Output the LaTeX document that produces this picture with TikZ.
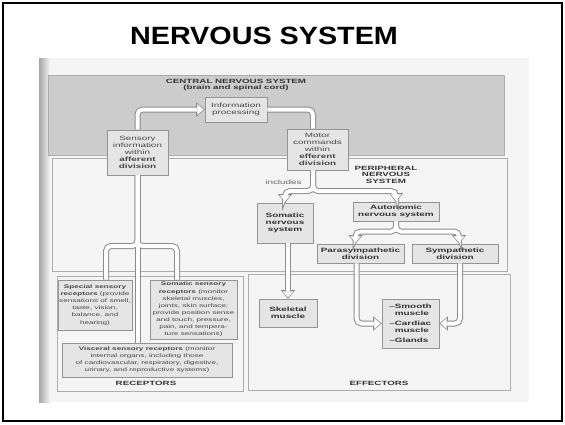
\documentclass[tikz,border=0pt]{standalone}
\usepackage{fontspec}
\setmainfont{Liberation Sans}
\newfontfamily\titlefont{Liberation Sans}[FakeStretch=1.15]
\newfontfamily\diagfont{Liberation Sans}[FakeStretch=1.6]
\usetikzlibrary{arrows.meta}

\begin{document}
\begin{tikzpicture}[
  x=1pt, y=-1pt,
  panel/.style={draw=black!32, line width=0.7pt, fill=black!4},
  box/.style={draw=black!42, line width=0.7pt, fill=black!10, inner sep=0.6pt, align=center, text=black!72, font=\diagfont\fontsize{6.2}{7}\selectfont},
  boldbox/.style={box, text=black!80, font=\diagfont\bfseries\fontsize{6.2}{7}\selectfont},
  recbox/.style={box, font=\diagfont\fontsize{5.1}{7.1}\selectfont},
  caps/.style={align=center, inner sep=0pt, text=black!80, font=\diagfont\bfseries\fontsize{6.1}{6.5}\selectfont},
  note/.style={inner sep=0pt, text=black!60, font=\diagfont\fontsize{6.2}{7}\selectfont},
  pipeout/.style={draw=black!45, line width=6pt, rounded corners=5pt,
    pipehead/.style={-{Triangle[length=8.5pt, width=14pt, line width=0.1pt]}}},
  pipein/.style={draw=white, line width=4pt, rounded corners=5pt,
    pipehead/.style={-{Triangle[length=6pt, width=10.4pt, line width=0.1pt]}, shorten >=1.3pt}}
]
  \useasboundingbox (0,0) rectangle (565,424);
  \draw[line width=2pt] (3,3) rectangle (562,421);
  \node (title) at (264,36) {\titlefont\bfseries\fontsize{25}{30}\selectfont NERVOUS SYSTEM};

  % scanned page and its panels
  \fill[black!4] (39,58) rectangle (529,402);
  \shade[left color=black!35, right color=black!4] (39,58) rectangle (50,402);
  \draw[panel, fill=black!20] (48,75) rectangle (504,155);
  \draw[panel] (52,158) rectangle (507,271);
  \draw[panel] (57,276) rectangle (243,391);
  \draw[panel] (248,274) rectangle (510,390);

  \node[caps] (cns) at (236,85) {CENTRAL NERVOUS SYSTEM\\(brain and spinal cord)};
  \node[caps] (pns) at (386,174.5) {PERIPHERAL\\NERVOUS\\SYSTEM};
  \node[caps] (receptors) at (146,383) {RECEPTORS};
  \node[caps] (effectors) at (379,383) {EFFECTORS};
  \node[note] (includes) at (283.5,182) {includes};

  \node[box, minimum width=62pt, minimum height=25pt] (info) at (236,109.5) {Information\\processing};
  \node[box, minimum width=61pt, minimum height=45pt] (sensory) at (137.5,152.5) {Sensory\\information\\within\\\textbf{afferent}\\\textbf{division}};
  \node[box, minimum width=61pt, minimum height=41pt] (motor) at (317.5,149.5) {Motor\\commands\\within\\\textbf{efferent}\\\textbf{division}};

  \node[boldbox, minimum width=56pt, minimum height=40pt] (somatic) at (285,223) {Somatic\\nervous\\system};
  \node[boldbox, minimum width=86pt, minimum height=19pt] (autonomic) at (396,211.5) {Autonomic\\nervous system};
  \node[boldbox, minimum width=87pt, minimum height=19pt] (parasym) at (360.5,253.5) {Parasympathetic\\division};
  \node[boldbox, minimum width=86pt, minimum height=19pt] (sympath) at (455,253.5) {Sympathetic\\division};
  \node[boldbox, minimum width=58pt, minimum height=28pt] (skeletal) at (288,313) {Skeletal\\muscle};
  \node[boldbox, minimum width=57pt, minimum height=49pt, align=left] (glands) at (410.5,323.5) {\textendash Smooth\\\phantom{\textendash}muscle\\[3pt]\textendash Cardiac\\\phantom{\textendash}muscle\\[3pt]\textendash Glands};

  \node[recbox, minimum width=74pt, minimum height=50pt] (special) at (95,305) {\textbf{Special sensory}\\\textbf{receptors} (provide\\sensations of smell,\\taste, vision,\\balance, and\\hearing)};
  \node[recbox, minimum width=87pt, minimum height=59pt] (somsens) at (193.5,309.5) {\textbf{Somatic sensory}\\\textbf{receptors} (monitor\\skeletal muscles,\\joints, skin surface;\\provide position sense\\and touch, pressure,\\pain, and tempera-\\ture sensations)};
  \node[recbox, minimum width=170pt, minimum height=34pt] (visceral) at (147,360) {\textbf{Visceral sensory receptors} (monitor\\internal organs, including those\\of cardiovascular, respiratory, digestive,\\urinary, and reproductive systems)};

  \coordinate (effsplit) at (313,191);
  \coordinate (autsplit) at (396,231.5);
  \coordinate (recsplit) at (137.5,246);

  \foreach \layer in {pipeout,pipein}{
    % afferent side
    \draw[\layer] (sensory.south) -- (sensory.south |- visceral.north);
    \draw[\layer] (sensory.south) -- (recsplit) -| ([xshift=11pt]special.north);
    \draw[\layer] (sensory.south) -- (recsplit) -| ([xshift=-16.5pt]somsens.north);
    \draw[\layer, pipehead] (sensory.north) |- (info.west);
    % efferent side
    \draw[\layer] (info.east) -| (effsplit |- motor.north);
    \draw[\layer, pipehead] (effsplit |- motor.south) -- (effsplit) -| (somatic.north);
    \draw[\layer, pipehead] (effsplit |- motor.south) -- (effsplit) -| (autonomic.north);
    \draw[\layer, pipehead] (skeletal.north |- somatic.south) -- (skeletal.north);
    \draw[\layer, pipehead] (autonomic.south) -- (autsplit) -| ([xshift=-5pt]parasym.north);
    \draw[\layer, pipehead] (autonomic.south) -- (autsplit) -| ([xshift=4pt]sympath.north);
    \draw[\layer, pipehead] ([xshift=-4pt]parasym.south) |- (glands.west);
    \draw[\layer, pipehead] ([xshift=5pt]sympath.south) |- (glands.east);
  }
\end{tikzpicture}
\end{document}
